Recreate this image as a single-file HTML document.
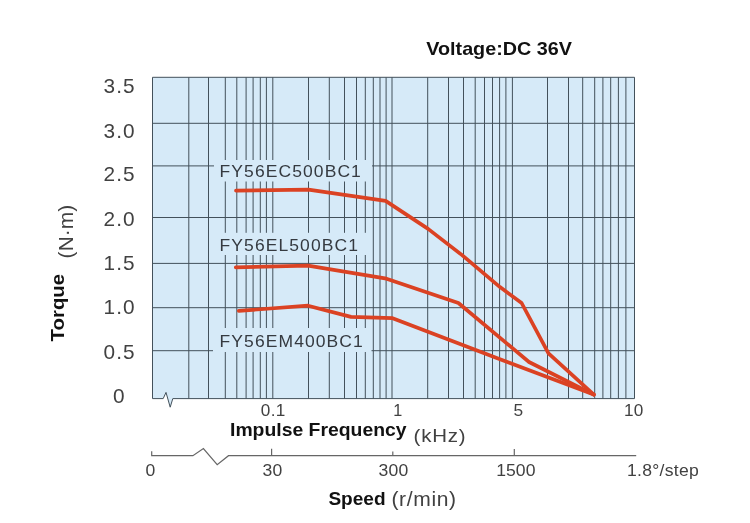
<!DOCTYPE html>
<html><head><meta charset="utf-8"><title>Torque curve</title>
<style>
html,body{margin:0;padding:0;background:#fff;}
body{width:750px;height:523px;overflow:hidden;position:relative;font-family:"Liberation Sans",sans-serif;}
svg{position:absolute;left:0;top:0;display:block;}
.t{font-family:"Liberation Sans",sans-serif;fill:#414141;}
.b{font-family:"Liberation Sans",sans-serif;font-weight:bold;fill:#111;}
</style></head><body>
<svg width="750" height="523" viewBox="0 0 750 523">
<polygon points="152.5,77.3 634.5,77.3 634.5,398.6 172.8,398.6 170.2,407.2 166,392.4 163.2,398.6 152.5,398.6" fill="#d6eaf8"/>
<g stroke="#43515b" stroke-width="1" fill="none">
<line x1="188.8" y1="77.3" x2="188.8" y2="398.6"/>
<line x1="208.5" y1="77.3" x2="208.5" y2="398.6"/>
<line x1="225.3" y1="77.3" x2="225.3" y2="398.6"/>
<line x1="236.8" y1="77.3" x2="236.8" y2="398.6"/>
<line x1="246.1" y1="77.3" x2="246.1" y2="398.6"/>
<line x1="253.1" y1="77.3" x2="253.1" y2="398.6"/>
<line x1="260.3" y1="77.3" x2="260.3" y2="398.6"/>
<line x1="266.4" y1="77.3" x2="266.4" y2="398.6"/>
<line x1="272.8" y1="77.3" x2="272.8" y2="398.6"/>
<line x1="308.5" y1="77.3" x2="308.5" y2="398.6"/>
<line x1="329.3" y1="77.3" x2="329.3" y2="398.6"/>
<line x1="344.5" y1="77.3" x2="344.5" y2="398.6"/>
<line x1="356.5" y1="77.3" x2="356.5" y2="398.6"/>
<line x1="365.3" y1="77.3" x2="365.3" y2="398.6"/>
<line x1="373.3" y1="77.3" x2="373.3" y2="398.6"/>
<line x1="380" y1="77.3" x2="380" y2="398.6"/>
<line x1="386.1" y1="77.3" x2="386.1" y2="398.6"/>
<line x1="392" y1="77.3" x2="392" y2="398.6"/>
<line x1="427.7" y1="77.3" x2="427.7" y2="398.6"/>
<line x1="448.5" y1="77.3" x2="448.5" y2="398.6"/>
<line x1="463.5" y1="77.3" x2="463.5" y2="398.6"/>
<line x1="475.2" y1="77.3" x2="475.2" y2="398.6"/>
<line x1="484.5" y1="77.3" x2="484.5" y2="398.6"/>
<line x1="492.5" y1="77.3" x2="492.5" y2="398.6"/>
<line x1="499.6" y1="77.3" x2="499.6" y2="398.6"/>
<line x1="505.9" y1="77.3" x2="505.9" y2="398.6"/>
<line x1="512.4" y1="77.3" x2="512.4" y2="398.6"/>
<line x1="547.5" y1="77.3" x2="547.5" y2="398.6"/>
<line x1="568.5" y1="77.3" x2="568.5" y2="398.6"/>
<line x1="582.7" y1="77.3" x2="582.7" y2="398.6"/>
<line x1="594.7" y1="77.3" x2="594.7" y2="398.6"/>
<line x1="602.9" y1="77.3" x2="602.9" y2="398.6"/>
<line x1="610.7" y1="77.3" x2="610.7" y2="398.6"/>
<line x1="618.4" y1="77.3" x2="618.4" y2="398.6"/>
<line x1="625.9" y1="77.3" x2="625.9" y2="398.6"/>
<line x1="152.5" y1="123.3" x2="634.5" y2="123.3"/>
<line x1="152.5" y1="165.9" x2="634.5" y2="165.9"/>
<line x1="152.5" y1="217.5" x2="634.5" y2="217.5"/>
<line x1="152.5" y1="263.4" x2="634.5" y2="263.4"/>
<line x1="152.5" y1="307.7" x2="634.5" y2="307.7"/>
<line x1="152.5" y1="350.7" x2="634.5" y2="350.7"/>
</g>
<rect x="214" y="160" width="158" height="21.5" fill="#d6eaf8"/>
<rect x="214" y="232.8" width="158" height="22.19999999999999" fill="#d6eaf8"/>
<rect x="213" y="328" width="158.5" height="24" fill="#d6eaf8"/>
<polyline points="163.2,398.6 152.5,398.6 152.5,77.3 634.5,77.3 634.5,398.6 172.8,398.6 170.2,407.2 166,392.4 163.2,398.6" fill="none" stroke="#43515b" stroke-width="1" stroke-linejoin="miter"/>
<g fill="none" stroke="#db4223" stroke-width="3.7" stroke-linejoin="round" stroke-linecap="round">
<polyline points="236,190.7 308.4,189.6 385.6,200.9 428.1,228.9 461.8,254.9 500,287.1 521.6,303 548.5,353.3 593.8,394.6"/>
<polyline points="235.8,267.4 308,265.6 385,278.3 458.4,303 529,362 593.8,394.6"/>
<polyline points="238.8,310.9 308,305.7 351,316.9 392.6,318.2 500,359.3 593.8,394.6"/>
</g>
<text class="t" transform="translate(219.6,176.7) scale(1.075,1)" font-size="16.3" letter-spacing="1.0" style="fill:#353a40">FY56EC500BC1</text>
<text class="t" transform="translate(219.6,251.2) scale(1.075,1)" font-size="16.3" letter-spacing="1.0" style="fill:#353a40">FY56EL500BC1</text>
<text class="t" transform="translate(219.6,346.8) scale(1.075,1)" font-size="16.3" letter-spacing="1.0" style="fill:#353a40">FY56EM400BC1</text>
<text class="t" transform="translate(103.6,93.3) scale(1.03,1)" font-size="20.2" letter-spacing="1.0">3.5</text>
<text class="t" transform="translate(103.6,137.7) scale(1.03,1)" font-size="20.2" letter-spacing="1.0">3.0</text>
<text class="t" transform="translate(103.6,181.4) scale(1.03,1)" font-size="20.2" letter-spacing="1.0">2.5</text>
<text class="t" transform="translate(103.6,225.5) scale(1.03,1)" font-size="20.2" letter-spacing="1.0">2.0</text>
<text class="t" transform="translate(103.6,269.7) scale(1.03,1)" font-size="20.2" letter-spacing="1.0">1.5</text>
<text class="t" transform="translate(103.6,313.6) scale(1.03,1)" font-size="20.2" letter-spacing="1.0">1.0</text>
<text class="t" transform="translate(103.6,359) scale(1.03,1)" font-size="20.2" letter-spacing="1.0">0.5</text>
<text class="t" transform="translate(113,403.2) scale(1.03,1)" font-size="20.2">0</text>
<text class="t" transform="translate(260.8,415.8) scale(1.06,1)" font-size="16.2" letter-spacing="0.3">0.1</text>
<text class="t" transform="translate(393.2,415.6)" font-size="16.2">1</text>
<text class="t" transform="translate(513.6,415.7) scale(1.06,1)" font-size="16.4">5</text>
<text class="t" transform="translate(624.0,415.7) scale(1.06,1)" font-size="16.2" letter-spacing="0.3">10</text>
<g stroke="#666" stroke-width="1.2" fill="none">
<polyline points="151.7,451.3 151.7,455.7 192.9,455.7 203.4,448.6 217.2,464.6 228.5,455.7 636.2,455.7"/>
<line x1="271.6" y1="448.8" x2="271.6" y2="455.7"/>
<line x1="392.8" y1="451.5" x2="392.8" y2="455.7"/>
<line x1="514.3" y1="449" x2="514.3" y2="455.7"/>
</g>
<text class="t" transform="translate(145.6,475.7) scale(1.06,1)" font-size="16.6">0</text>
<text class="t" transform="translate(262.4,475.7) scale(1.06,1)" font-size="16.6" letter-spacing="0.3">30</text>
<text class="t" transform="translate(378.4,475.7) scale(1.06,1)" font-size="16.6" letter-spacing="0.3">300</text>
<text class="t" transform="translate(496.3,475.8) scale(1.06,1)" font-size="16.6">1500</text>
<text class="t" transform="translate(627.0,475.6) scale(1.06,1)" font-size="16.6" letter-spacing="0.25">1.8°/step</text>
<text class="b" transform="translate(426.3,55.1)" font-size="18.5" textLength="145.6" lengthAdjust="spacingAndGlyphs">Voltage:DC 36V</text>
<text class="b" transform="translate(230.0,436.2)" font-size="18.3" textLength="176.6" lengthAdjust="spacingAndGlyphs">Impulse Frequency</text>
<text class="t" transform="translate(413.6,442.4) scale(1.1,1)" font-size="18.6" letter-spacing="0.7">(kHz)</text>
<text class="b" transform="translate(328.4,504.8)" font-size="18.3" textLength="57.2" lengthAdjust="spacingAndGlyphs">Speed</text>
<text class="t" transform="translate(391.4,505.6) scale(1.08,1)" font-size="19.5" letter-spacing="0.6">(r/min)</text>
<text class="b" transform="translate(63.9,341.4) rotate(-90)" font-size="18" textLength="67.5" lengthAdjust="spacingAndGlyphs">Torque</text>
<text class="t" transform="translate(72.7,258.4) rotate(-90) scale(1.04,1)" font-size="20" letter-spacing="0.1">(N·m)</text>
</svg>
</body></html>
